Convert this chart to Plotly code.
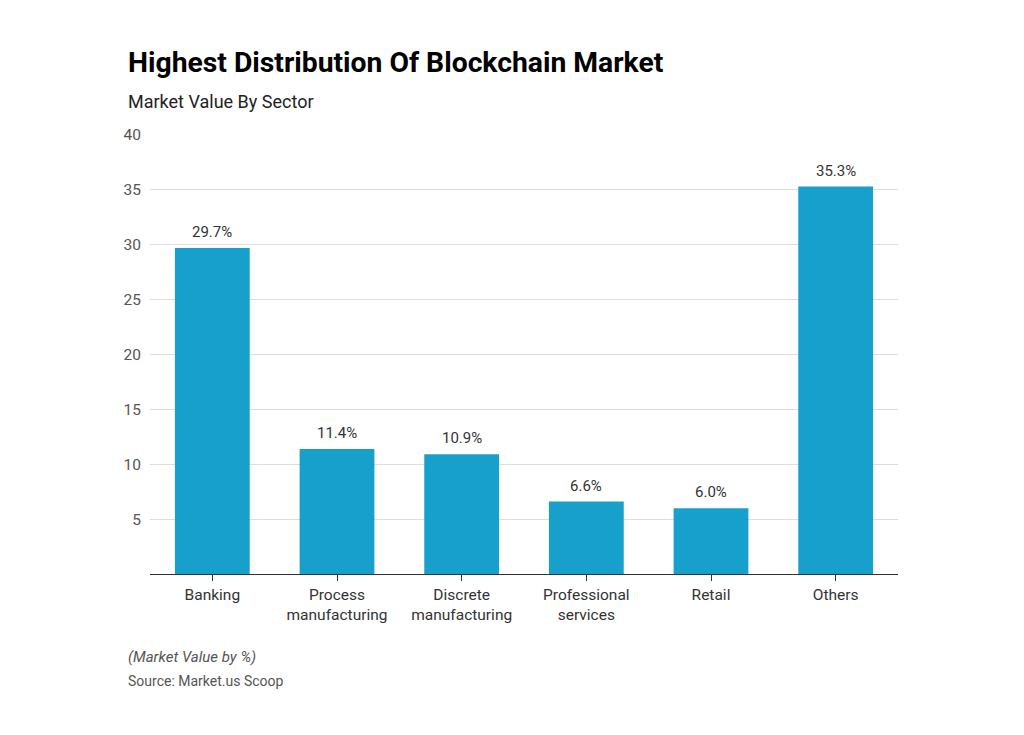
import plotly.graph_objects as go

categories = ["Banking", "Process<br>manufacturing", "Discrete<br>manufacturing",
              "Professional<br>services", "Retail", "Others"]
values = [29.7, 11.4, 10.9, 6.6, 6.0, 35.3]
labels = ["29.7%", "11.4%", "10.9%", "6.6%", "6.0%", "35.3%"]
y_ticks = [5, 10, 15, 20, 25, 30, 35, 40]

L, R, T, B = 150, 126, 135, 161
H = 735
ph = H - T - B
pw = 1024 - L - R

def py(ypix):
    return (H - B - ypix) / ph

def px(xpix):
    return (xpix - L) / pw

fig = go.Figure(go.Bar(
    x=categories, y=values,
    marker=dict(color="#18a0cc", line=dict(width=0)),
    hoverinfo="x+y",
))

bar_labels = [
    dict(text=t, x=c, y=v, xref="x", yref="y", xanchor="center", yanchor="bottom",
         yshift=5, showarrow=False, font=dict(family="Roboto", size=15, color="#333"))
    for c, v, t in zip(categories, values, labels)
]

fig.update_layout(
    width=1024, height=735,
    margin=dict(l=L, r=R, t=T, b=B),
    paper_bgcolor="white", plot_bgcolor="white",
    bargap=0.4,
    showlegend=False,
    font=dict(family="Roboto", color="#444"),
    xaxis=dict(showline=True, linecolor="#333", linewidth=1.2,
               ticks="outside", ticklen=6, tickcolor="#333",
               tickfont=dict(size=15.5, color="#333"), showgrid=False),
    yaxis=dict(range=[0, 40], tickvals=y_ticks, showgrid=True, gridcolor="#dddddd",
               gridwidth=1, zeroline=False, showline=False,
               tickfont=dict(size=15.5, color="#555"), ticklabelstandoff=8),
    annotations=bar_labels + [
        dict(text="<b>Highest Distribution Of Blockchain Market</b>", x=px(126), y=py(62),
             xref="paper", yref="paper", xanchor="left", yanchor="middle",
             showarrow=False, font=dict(family="Roboto", size=28.3, color="#000")),
        dict(text="Market Value By Sector", x=px(126), y=py(102),
             xref="paper", yref="paper", xanchor="left", yanchor="middle",
             showarrow=False, font=dict(family="Roboto", size=18, color="#222")),
        dict(text="<i>(Market Value by %)</i>", x=px(126), y=py(657),
             xref="paper", yref="paper", xanchor="left", yanchor="middle",
             showarrow=False, font=dict(family="Roboto", size=15, color="#555")),
        dict(text="Source: Market.us Scoop", x=px(126), y=py(681),
             xref="paper", yref="paper", xanchor="left", yanchor="middle",
             showarrow=False, font=dict(family="Roboto", size=14, color="#555")),
    ],
)

fig.write_html("out.html")
